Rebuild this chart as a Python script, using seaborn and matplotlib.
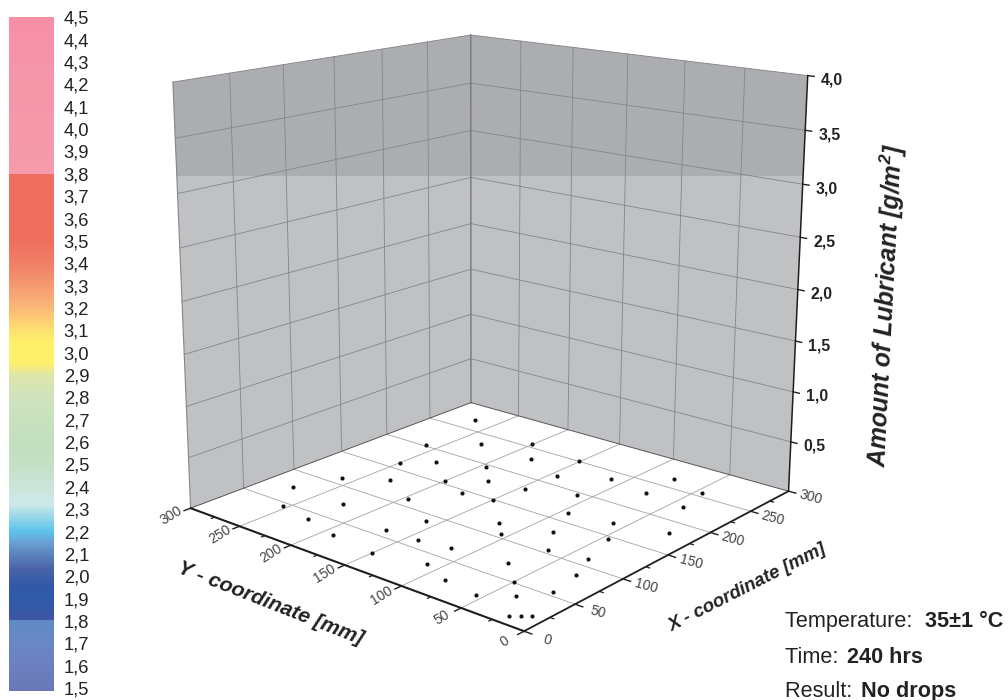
import numpy as np
import seaborn as sns
from matplotlib import pyplot as plt
from matplotlib.colors import LinearSegmentedColormap
from matplotlib.patches import Polygon

sns.set_theme(style="white")
plt.rcParams["font.family"] = ["Liberation Sans", "DejaVu Sans"]
plt.rcParams["mathtext.fontset"] = "custom"
plt.rcParams["mathtext.bf"] = "Liberation Sans:bold:italic"

# measuring points on the plate [mm]
x_mm = [270, 202, 231, 161, 180, 196, 110, 130, 155, 175, 75, 145, 111, 75, 45, 40, 90, 60,
        31, 61, 66, 26, 36, 25, 20, 256, 231, 251, 216, 236, 266, 256, 180, 230, 195, 150,
        225, 165, 120, 170, 106, 131, 181, 146, 105, 111, 71, 51, 85, 35, 55, 10, 15, 20]
y_mm = [270, 261, 231, 250, 231, 196, 260, 231, 200, 176, 275, 175, 196, 225, 254, 224, 160, 170,
        191, 141, 116, 150, 111, 85, 55, 201, 181, 151, 145, 111, 76, 45, 146, 75, 110, 150,
        40, 95, 120, 60, 106, 81, 21, 46, 65, 36, 71, 50, 26, 35, 21, 20, 15, 10]

xy_ticks = [0, 50, 100, 150, 200, 250, 300]
xy_minor = [25, 75, 125, 175, 225, 275]
z_ticks = [0.5, 1.0, 1.5, 2.0, 2.5, 3.0, 3.5, 4.0]

# colour scale of the lubricant amount
scale_labels = ["4,5", "4,4", "4,3", "4,2", "4,1", "4,0", "3,9", "3,8", "3,7", "3,6", "3,5",
                "3,4", "3,3", "3,2", "3,1", "3,0", "2,9", "2,8", "2,7", "2,6", "2,5", "2,4",
                "2,3", "2,2", "2,1", "2,0", "1,9", "1,8", "1,7", "1,6", "1,5"]
scale_values = [4.5 - 0.1 * i for i in range(31)]
scale_stops = [(1.49, "#6A78B8"), (1.6, "#6C80BF"), (1.7, "#6A88C4"), (1.799, "#5F8AC6"),
               (1.8, "#4055A5"), (1.85, "#3458A6"), (1.9, "#2F5BA9"), (1.95, "#3058A8"),
               (2.03, "#4A63A9"), (2.1, "#5C86BE"), (2.15, "#6AA2D4"), (2.2, "#5CC3EC"),
               (2.27, "#9FD9E8"), (2.32, "#CDE9E8"), (2.4, "#CCE5DA"), (2.5, "#C3E0C4"),
               (2.6, "#C2DFBE"), (2.8, "#CFE3BE"), (2.9, "#DEE5A8"), (2.95, "#FFF06C"),
               (3.05, "#FFF06A"), (3.1, "#FDE170"), (3.2, "#FAB878"), (3.3, "#F49A72"),
               (3.4, "#F07F66"), (3.5, "#EF6E5E"), (3.799, "#F06E60"), (3.8, "#F59BAB"),
               (4.2, "#F596A9"), (4.5, "#F78FA7")]

# camera of the 3d box, x/y in mm and z in g/m2 (x 75) -> pixels
CAM = np.array([[1.39167668, -1.00768551, -0.10824313, 524.06140613],
                [-0.14895656, -0.13316827, -1.67128541, 631.16924086],
                [0.00064684, 0.00054455, -0.00022856, 1.0]])


def project(x, y, z=0.0):
    x, y, z = np.broadcast_arrays(x, y, z)
    p = CAM @ np.vstack([x, y, z * 75.0, np.ones(x.shape)]).astype(float)
    return p[0] / p[2], p[1] / p[2]


def line3d(ax, a, b, **kw):
    u, v = project([a[0], b[0]], [a[1], b[1]], [a[2], b[2]])
    ax.plot(u, v, solid_capstyle="projecting", **kw)


fig = plt.figure(figsize=(10.08, 7), dpi=100)
ax = fig.add_axes([0, 0, 1, 1])
ax.set_xlim(0, 1008)
ax.set_ylim(700, 0)
ax.axis("off")

# walls
WALL = "#C0C1C3"
BAND = "#ACADB0"
GRID = "#85868A"
u1, v1 = project([0, 300, 300, 0], [300, 300, 300, 300], [0, 0, 4, 4])
u2, v2 = project([300, 300, 300, 300], [300, 0, 0, 300], [0, 0, 4, 4])
for u, v in [(u1, v1), (u2, v2)]:
    wall = Polygon(np.c_[u, v], fc=WALL, ec="none", zorder=1)
    ax.add_patch(wall)
    band = ax.axhspan(0, 176, fc=BAND, ec="none", zorder=1.5)
    band.set_clip_path(wall)

# grid lines
for t in xy_ticks[1:-1]:
    line3d(ax, (t, 300, 0), (t, 300, 4), color=GRID, lw=0.6, zorder=2)
    line3d(ax, (300, t, 0), (300, t, 4), color=GRID, lw=0.6, zorder=2)
    line3d(ax, (t, 0, 0), (t, 300, 0), color="#A3A3A3", lw=0.6, zorder=2)
    line3d(ax, (0, t, 0), (300, t, 0), color="#A3A3A3", lw=0.6, zorder=2)
for z in z_ticks:
    line3d(ax, (0, 300, z), (300, 300, z), color=GRID, lw=0.6, zorder=2)
    line3d(ax, (300, 0, z), (300, 300, z), color=GRID, lw=0.6, zorder=2)
line3d(ax, (0, 300, 0), (0, 300, 4), color=GRID, lw=0.8, zorder=2)
line3d(ax, (300, 300, 0), (300, 300, 4), color="#7C7D80", lw=1.1, zorder=2)
line3d(ax, (0, 300, 0), (300, 300, 0), color="#55565A", lw=0.7, zorder=2)
line3d(ax, (300, 0, 0), (300, 300, 0), color="#55565A", lw=0.7, zorder=2)

# axes
DARK = "#1E1E1E"
line3d(ax, (0, 0, 0), (0, 300, 0), color=DARK, lw=1.5, zorder=3)
line3d(ax, (0, 0, 0), (300, 0, 0), color=DARK, lw=1.3, zorder=3)
line3d(ax, (300, 0, 0), (300, 0, 4), color=DARK, lw=1.1, zorder=3)

for t in xy_ticks:
    line3d(ax, (-6, t, 0), (0, t, 0), color=DARK, lw=1.0, zorder=3)
    line3d(ax, (t, -6, 0), (t, 0, 0), color=DARK, lw=1.0, zorder=3)
    u, v = project(-18, t)
    ax.text(u[0], v[0], str(t), rotation=32, ha="center", va="center", fontsize=10, color="#444444")
    u, v = project(t, -18)
    ax.text(u[0], v[0], str(t), rotation=-15, ha="center", va="center", fontsize=10, color="#444444")
for t in xy_minor:
    line3d(ax, (-3, t, 0), (0, t, 0), color=DARK, lw=0.9, zorder=3)
    line3d(ax, (t, -3, 0), (t, 0, 0), color=DARK, lw=0.9, zorder=3)
for z in z_ticks:
    line3d(ax, (300, -5, z), (300, 0, z), color=DARK, lw=1.0, zorder=3)
    u, v = project(300, 0, z)
    ax.text(u[0] + 13, v[0] + 4.5, f"{z:.1f}".replace(".", ","), ha="left", va="center",
            fontsize=11.3, fontweight="bold", color="#222222")

# measuring points
px, py = project(x_mm, y_mm)
sns.scatterplot(x=px, y=py, ax=ax, color="#111111", s=9, linewidth=0, zorder=4, legend=False)

# axis titles
ax.text(270, 603, "Y - coordinate [mm]", rotation=-21.5, ha="center", va="center",
        fontsize=15.2, fontweight="bold", fontstyle="italic", color="#222222")
ax.text(748, 588, "X - coordinate [mm]", rotation=27, ha="center", va="center",
        fontsize=13.4, fontweight="bold", fontstyle="italic", color="#222222")
ax.text(886, 305, r"Amount of Lubricant [g/m$\mathbf{^{2}}$]", rotation=87, ha="center", va="center",
        fontsize=17.8, fontweight="bold", fontstyle="italic", color="#222222")

# test conditions
notes = [("Temperature: ", "35±1 °C", 925, 627), ("Time: ", "240 hrs", 847, 663), ("Result: ", "No drops", 861, 697)]
for plain, bold, bx, y in notes:
    ax.text(785, y, plain, ha="left", va="baseline", fontsize=15.6, color="#222222")
    ax.text(bx, y, bold, ha="left", va="baseline", fontsize=15.6, fontweight="bold", color="#222222")

# colour scale as a heatmap column
cax = fig.add_axes([9 / 1008, (700 - 690.7) / 700, 45 / 1008, 673.4 / 700])
top, bottom = 4.5, 1.488
column = np.linspace(top, bottom, 600).reshape(-1, 1)
stops = [((v - bottom) / (top - bottom), c) for v, c in scale_stops]
stops[0] = (0.0, stops[0][1])
stops[-1] = (1.0, stops[-1][1])
cmap = LinearSegmentedColormap.from_list("lubricant", stops, N=1024)
sns.heatmap(column, ax=cax, cmap=cmap, vmin=bottom, vmax=top, cbar=False, xticklabels=False)
cax.set_yticks([(top - v) / (top - bottom) * 600 + 0.0 for v in scale_values])
cax.set_yticklabels(scale_labels, rotation=0, fontsize=13.2, color="#222222")
cax.yaxis.tick_right()
cax.tick_params(axis="y", length=0, pad=7)

plt.savefig("out.png", dpi=100)
